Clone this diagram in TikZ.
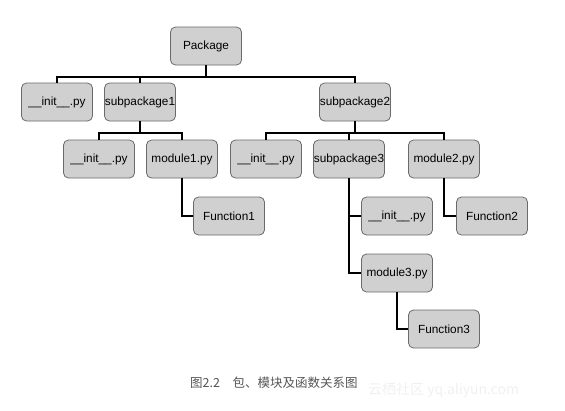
\documentclass[tikz,border=0pt]{standalone}
\usepackage{fontspec}
\setmainfont{Liberation Sans}
\newfontfamily\cjk{Noto Sans CJK SC}
\definecolor{boxfill}{HTML}{D0D0D0}
\definecolor{boxline}{HTML}{6A6A6A}
\definecolor{captxt}{HTML}{555555}
\begin{document}
\begin{tikzpicture}[x=1pt,y=-1pt,
  box/.style={draw=boxline,fill=boxfill,line width=0.8pt,rounded corners=5pt,
    minimum width=71pt,minimum height=38pt,inner sep=0pt,
    font=\fontsize{11.8}{13}\selectfont},
  conn/.style={draw=black,line width=1.8pt}]
\useasboundingbox (0,0) rectangle (565,410);
% bus coordinates
\coordinate (b1) at (0,77);
\coordinate (b2) at (0,133);
% nodes
\node[box] (pkg)   at (206,46)  {Package};
\node[box] (ini1)  at (57,102)  {\_\_init\_\_.py};
\node[box] (sp1)   at (140,102) {subpackage1};
\node[box] (sp2)   at (355,102) {subpackage2};
\node[box] (ini2)  at (99,159)  {\_\_init\_\_.py};
\node[box] (mod1)  at (182,159) {module1.py};
\node[box] (ini3)  at (266,159) {\_\_init\_\_.py};
\node[box] (sp3)   at (349,159) {subpackage3};
\node[box] (mod2)  at (444,159) {module2.py};
\node[box] (f1)    at (229,216) {Function1};
\node[box] (ini4)  at (397,216) {\_\_init\_\_.py};
\node[box] (f2)    at (492,216) {Function2};
\node[box] (mod3)  at (397,273) {module3.py};
\node[box] (f3)    at (444,329) {Function3};
% connectors
\draw[conn] (pkg.south) -- (pkg.south |- b1) -| (ini1.north);
\draw[conn] (pkg.south |- b1) -| (sp1.north);
\draw[conn] (pkg.south |- b1) -| (sp2.north);
\draw[conn] (sp1.south) -- (sp1.south |- b2) -| (ini2.north);
\draw[conn] (sp1.south |- b2) -| (mod1.north);
\draw[conn] (sp2.south) -- (sp2.south |- b2) -| (ini3.north);
\draw[conn] (sp2.south |- b2) -| (sp3.north);
\draw[conn] (sp2.south |- b2) -| (mod2.north);
\draw[conn] (mod1.south) |- (f1.west);
\draw[conn] (sp3.south) |- (ini4.west);
\draw[conn] (sp3.south) |- (mod3.west);
\draw[conn] (mod2.south) |- (f2.west);
\draw[conn] (mod3.south) |- (f3.west);
% caption
\node[anchor=west,text=captxt,inner sep=0pt,font=\cjk\fontsize{12.5}{14}\selectfont] (cap) at (190,383) {图2.2\hspace{1em}包、模块及函数关系图};
\node[anchor=west,text=gray!12,inner sep=0pt,font=\cjk\fontsize{14}{16}\selectfont] (wm) at (368,390) {云栖社区 yq.aliyun.com};
\end{tikzpicture}
\end{document}
